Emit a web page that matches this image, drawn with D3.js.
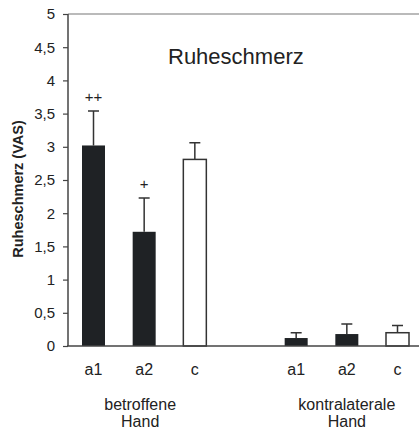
<!DOCTYPE html>
<html>
<head>
<meta charset="utf-8">
<script src="https://cdnjs.cloudflare.com/ajax/libs/d3/7.8.5/d3.min.js"></script>
<style>
  body { margin: 0; background: #fff; }
  svg { display: block; font-family: "Liberation Sans", Arial, sans-serif; }
  .tick text { fill: #222; }
</style>
</head>
<body>
<div id="plot"></div>
<script>
// data
var slots = ["b-a1", "b-a2", "b-c", "gap", "k-a1", "k-a2", "k-c"];
var barKeys = ["b-a1", "b-a2", "b-c", "k-a1", "k-a2", "k-c"];
var barLabels = ["a1", "a2", "c", "a1", "a2", "c"];
var barMeans = [3.02, 1.72, 2.81, 0.12, 0.18, 0.20];
var barErrors = [0.52, 0.51, 0.25, 0.08, 0.15, 0.11];
var barFilled = [true, true, false, true, true, false];
var barMarks = ["++", "+", "", "", "", ""];
var groupNames = [["betroffene", "Hand"], ["kontralaterale", "Hand"]];
var groupCenters = ["b-a2", "k-a2"];
var yTicks = [0, 0.5, 1, 1.5, 2, 2.5, 3, 3.5, 4, 4.5, 5];

var svgWidth = 419;
var svgHeight = 430;
var margin = { top: 14, right: 0, bottom: 84, left: 68 };
var width = svgWidth - margin.left - margin.right;
var height = svgHeight - margin.top - margin.bottom;

var svg = d3.select("#plot")
  .append("svg")
  .attr("width", svgWidth)
  .attr("height", svgHeight);

var chartGroup = svg.append("g")
  .attr("transform", `translate(${margin.left}, ${margin.top})`);

var xScale = d3.scalePoint()
  .domain(slots)
  .range([25.5, 329.5]);

var yScale = d3.scaleLinear()
  .domain([0, 5])
  .range([height, 0]);

var bars = barKeys.map((k, i) => ({
  key: k,
  label: barLabels[i],
  mean: barMeans[i],
  err: barErrors[i],
  filled: barFilled[i],
  mark: barMarks[i]
}));

var barWidth = 23;
var dark = "#1f2225";

// top frame line
chartGroup.append("line")
  .attr("x1", 0).attr("x2", width)
  .attr("y1", 0).attr("y2", 0)
  .attr("stroke", "#777")
  .attr("stroke-width", 1.2);

// error bars (upper only)
chartGroup.selectAll(".err")
  .data(bars)
  .enter()
  .append("path")
  .attr("class", "err")
  .attr("fill", "none")
  .attr("stroke", "#333")
  .attr("stroke-width", 1.5)
  .attr("d", d => {
    var cx = xScale(d.key);
    var y0 = yScale(d.mean);
    var y1 = yScale(d.mean + d.err);
    return `M${cx},${y0}V${y1}M${cx - 5.5},${y1}H${cx + 5.5}`;
  });

// bars
chartGroup.selectAll(".bar")
  .data(bars)
  .enter()
  .append("rect")
  .attr("class", "bar")
  .attr("x", d => xScale(d.key) - barWidth / 2)
  .attr("width", barWidth)
  .attr("y", d => yScale(d.mean))
  .attr("height", d => height - yScale(d.mean))
  .attr("fill", d => d.filled ? dark : "#fff")
  .attr("stroke", d => d.filled ? "none" : "#333")
  .attr("stroke-width", 1.5);

// significance marks
chartGroup.selectAll(".mark")
  .data(bars.filter(d => d.mark))
  .enter()
  .append("text")
  .attr("class", "mark")
  .attr("x", d => xScale(d.key))
  .attr("y", d => yScale(d.mean + d.err) - 9)
  .attr("text-anchor", "middle")
  .attr("font-size", "15px")
  .attr("fill", "#222")
  .text(d => d.mark);

// axes
var leftAxis = d3.axisLeft(yScale)
  .tickValues(yTicks)
  .tickSize(5)
  .tickPadding(8)
  .tickFormat(d => String(d).replace(".", ","));

var yAxis = chartGroup.append("g")
  .call(leftAxis);
yAxis.selectAll("text").attr("font-size", "15px").attr("font-family", "Liberation Sans, Arial, sans-serif");
yAxis.selectAll("line").attr("stroke", "#444").attr("stroke-width", 1.2);
yAxis.select(".domain").attr("stroke", "#444").attr("stroke-width", 1.5).attr("d", `M0,0V${height}`);

chartGroup.append("line")
  .attr("x1", -1).attr("x2", width)
  .attr("y1", height).attr("y2", height)
  .attr("stroke", "#444")
  .attr("stroke-width", 1.5);

// category labels
chartGroup.selectAll(".cat")
  .data(bars)
  .enter()
  .append("text")
  .attr("class", "cat")
  .attr("x", d => xScale(d.key))
  .attr("y", height + 29)
  .attr("text-anchor", "middle")
  .attr("font-size", "16px")
  .attr("fill", "#222")
  .text(d => d.label);

// group labels
groupNames.forEach((lines, i) => {
  var t = chartGroup.append("text")
    .attr("x", xScale(groupCenters[i]) - (i == 0 ? 4 : 0))
    .attr("y", height + 64)
    .attr("text-anchor", "middle")
    .attr("font-size", "16px")
    .attr("fill", "#222");
  lines.forEach((l, j) => {
    t.append("tspan")
      .attr("x", xScale(groupCenters[i]) - (i == 0 ? 4 : 0))
      .attr("dy", j == 0 ? 0 : 17)
      .text(l);
  });
});

// title
svg.append("text")
  .attr("x", 168)
  .attr("y", 64)
  .attr("font-size", "22px")
  .attr("fill", "#222")
  .text("Ruheschmerz");

// y axis label
svg.append("text")
  .attr("transform", "rotate(-90)")
  .attr("x", -189)
  .attr("y", 23)
  .attr("text-anchor", "middle")
  .attr("font-size", "14.5px")
  .attr("font-weight", "bold")
  .attr("fill", "#222")
  .text("Ruheschmerz (VAS)");
</script>
</body>
</html>
